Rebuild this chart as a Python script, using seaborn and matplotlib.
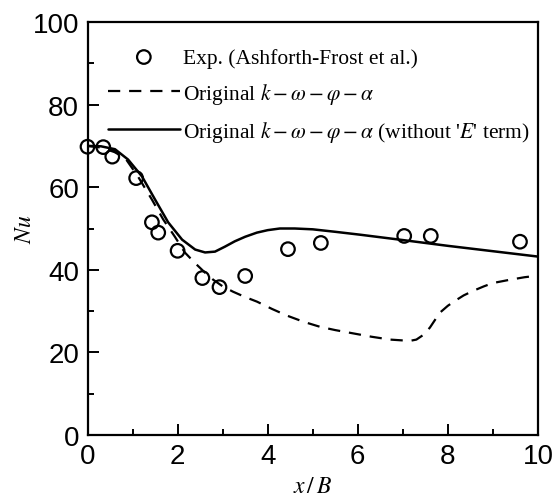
import numpy as np
import pandas as pd
import matplotlib
matplotlib.use("Agg")
import matplotlib.pyplot as plt
import seaborn as sns
from matplotlib.ticker import MultipleLocator

# Experimental data (Ashforth-Frost et al.)
exp_x = [0.0, 0.35, 0.55, 1.08, 1.43, 1.57, 2.0, 2.55, 2.93, 3.5, 4.45, 5.18, 7.03, 7.62, 9.6]
exp_nu = [69.8, 69.7, 67.4, 62.2, 51.5, 49.0, 44.6, 38.0, 35.8, 38.5, 45.0, 46.5, 48.2, 48.2, 46.8]

# Original k-w-phi-alpha (dashed)
orig_x = [0.0, 0.3, 0.6, 0.84, 1.12, 1.43, 1.68, 1.94, 2.16, 2.39, 2.6, 2.79, 3.0, 3.23, 3.5,
          3.76, 4.1, 4.43, 4.8, 5.16, 5.5, 5.9, 6.3, 6.72, 7.0, 7.16, 7.3, 7.45, 7.6, 7.82,
          8.0, 8.16, 8.35, 8.56, 8.8, 9.0, 9.38, 9.7, 10.0]
orig_nu = [70.0, 69.6, 68.5, 67.0, 62.6, 57.0, 52.2, 48.0, 44.2, 41.6, 39.4, 37.6, 36.0, 34.7, 33.4,
           32.3, 30.5, 28.9, 27.4, 26.2, 25.4, 24.6, 23.8, 23.1, 22.9, 22.8, 23.1, 24.2, 26.0, 29.6,
           31.3, 32.5, 33.8, 34.9, 36.0, 36.8, 37.6, 38.2, 38.6]

# Original without 'E' term (solid)
noE_x = [0.0, 0.3, 0.61, 0.9, 1.21, 1.5, 1.79, 2.1, 2.39, 2.61, 2.83, 3.05, 3.27, 3.5, 3.76,
         4.0, 4.27, 4.6, 5.0, 5.5, 6.05, 7.0, 8.0, 9.0, 10.0]
noE_nu = [70.0, 69.9, 69.2, 66.7, 62.6, 57.0, 51.5, 47.3, 44.9, 44.2, 44.4, 45.6, 46.9, 48.0, 49.0,
          49.6, 50.0, 50.0, 49.8, 49.2, 48.5, 47.2, 45.8, 44.5, 43.2]

sns.set_style("ticks")
plt.rcParams["font.family"] = ["Liberation Sans", "DejaVu Sans"]
plt.rcParams["mathtext.fontset"] = "stix"
for k in ["axes.edgecolor", "xtick.color", "ytick.color", "text.color", "axes.labelcolor"]:
    plt.rcParams[k] = "black"

fig = plt.figure(figsize=(5.57, 5.02), dpi=100)
ax = fig.add_axes([87.5 / 557, 1 - 436 / 502, (538 - 87.5) / 557, (436 - 23) / 502])

df_exp = pd.DataFrame({"x": exp_x, "nu": exp_nu})
df_orig = pd.DataFrame({"x": orig_x, "nu": orig_nu})
df_noE = pd.DataFrame({"x": noE_x, "nu": noE_nu})

sns.lineplot(data=df_orig, x="x", y="nu", ax=ax, color="black", lw=1.6,
             linestyle=(0, (5.5, 4)), label=r"Original $k-\omega-\varphi-\alpha$", sort=False)
sns.lineplot(data=df_noE, x="x", y="nu", ax=ax, color="black", lw=1.8,
             label=r"Original $k-\omega-\varphi-\alpha$ (without '$E$' term)", sort=False)
sns.scatterplot(data=df_exp, x="x", y="nu", ax=ax, marker="o", s=95,
                facecolor="none", edgecolor="black", linewidth=1.6,
                label="Exp. (Ashforth-Frost et al.)", zorder=5, clip_on=False)

ax.set_xlim(0, 10)
ax.set_ylim(0, 100)
ax.xaxis.set_major_locator(MultipleLocator(2))
ax.xaxis.set_minor_locator(MultipleLocator(1))
ax.yaxis.set_major_locator(MultipleLocator(20))
ax.yaxis.set_minor_locator(MultipleLocator(10))
ax.tick_params(which="both", direction="in", top=False, right=False, labelsize=20, width=1.4)
ax.tick_params(which="major", length=8, pad=6)
ax.tick_params(which="minor", length=4.5)
for s in ax.spines.values():
    s.set_linewidth(1.6)
    s.set_visible(True)

ax.set_xlabel(r"$x\,/\,B$", fontsize=17, labelpad=4)
ax.set_ylabel(r"$Nu$", fontsize=17, labelpad=-2.5)

handles, labels = ax.get_legend_handles_labels()
order = [2, 0, 1]
leg = ax.legend([handles[i] for i in order], [labels[i] for i in order],
                loc="upper left", bbox_to_anchor=(0.045, 0.938), frameon=False,
                prop={"family": ["Liberation Serif"], "size": 15.5},
                handlelength=3.35, handletextpad=0.15, labelspacing=0.6, borderaxespad=0, borderpad=0)

fig.savefig("out.png", dpi=100)
